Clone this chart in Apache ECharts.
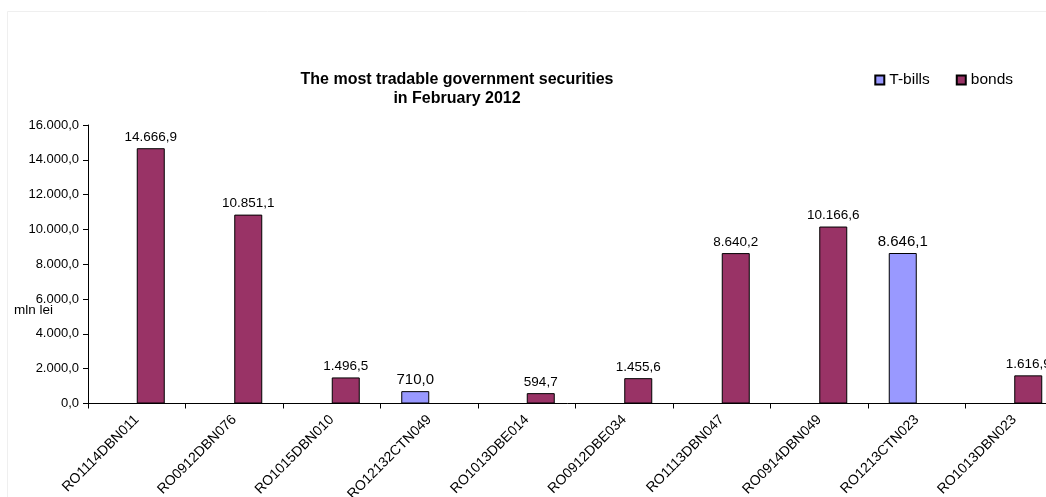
<!DOCTYPE html>
<html><head><meta charset="utf-8">
<script src="https://cdn.jsdelivr.net/npm/echarts@6/dist/echarts.min.js"></script>
<style>html,body{margin:0;padding:0;background:#fff}#c{width:1046px;height:497px}</style>
</head><body><div id="c"></div>
<script>
const categories = ['RO1114DBN011','RO0912DBN076','RO1015DBN010','RO12132CTN049','RO1013DBE014','RO0912DBE034','RO1113DBN047','RO0914DBN049','RO1213CTN023','RO1013DBN023'];
const tbills = [null,null,null,710.0,null,null,null,null,8646.1,null];
const bonds = [14666.9,10851.1,1496.5,null,594.7,1455.6,8640.2,10166.6,null,1616.9];
const yTicks = [0,2000,4000,6000,8000,10000,12000,14000,16000];

function fmt(v){
  const parts = Number(v).toFixed(1).split('.');
  return parts[0].replace(/\B(?=(\d{3})+(?!\d))/g,'.') + ',' + parts[1];
}
const font = 'Liberation Sans, Arial, sans-serif';
const chart = echarts.init(document.getElementById('c'), null, {renderer:'canvas'});
chart.setOption({
  animation:false,
  backgroundColor:'#fff',
  textStyle:{fontFamily:font},
  title:{
    text:'The most tradable government securities\nin February 2012',
    left:452, textAlign:'center', top:65,
    textStyle:{fontSize:16, fontWeight:'bold', color:'#000', fontFamily:font, lineHeight:19}
  },
  legend:{
    right:28, top:67, itemWidth:9, itemHeight:9, itemGap:26,
    textStyle:{fontSize:15.5, color:'#000', fontFamily:font},
    data:[{name:'T-bills',icon:'rect'},{name:'bonds',icon:'rect'}]
  },
  graphic:[
    {type:'rect', shape:{x:7.5,y:11.5,width:1050,height:500}, style:{fill:'none', stroke:'#efefef', lineWidth:1}, silent:true},
    {type:'text', left:14, top:303, style:{text:'mln lei', font:'13.5px '+font, fill:'#000'}}
  ],
  grid:{left:88, top:125, width:975, bottom:93.5, containLabel:false, outerBoundsMode:'none'},
  xAxis:{
    type:'category', data:categories,
    axisLine:{lineStyle:{color:'#000', width:1}},
    axisTick:{show:true, alignWithLabel:false, length:5, inside:false, lineStyle:{color:'#000'}},
    axisLabel:{rotate:45, fontSize:14, color:'#000', margin:14, fontFamily:font, interval:0}
  },
  yAxis:{
    type:'value', min:0, max:16000, interval:2000,
    axisLine:{show:true, lineStyle:{color:'#000'}},
    axisTick:{show:true, length:5, lineStyle:{color:'#000'}},
    splitLine:{show:false},
    axisLabel:{fontSize:13, color:'#000', margin:9, fontFamily:font, formatter:v=>fmt(v)}
  },
  series:[
    {name:'T-bills', type:'bar', data:tbills, barWidth:28, barGap:'0%',
     itemStyle:{color:'#9999FF', borderColor:'#000', borderWidth:1},
     label:{show:true, position:'top', distance:4, fontSize:15, color:'#000', fontFamily:font, formatter:p=>fmt(p.value)}},
    {name:'bonds', type:'bar', data:bonds, barWidth:28, barGap:'0%',
     itemStyle:{color:'#993366', borderColor:'#000', borderWidth:1},
     label:{show:true, position:'top', distance:4, fontSize:13.5, color:'#000', fontFamily:font, formatter:p=>fmt(p.value)}}
  ]
});
</script></body></html>
